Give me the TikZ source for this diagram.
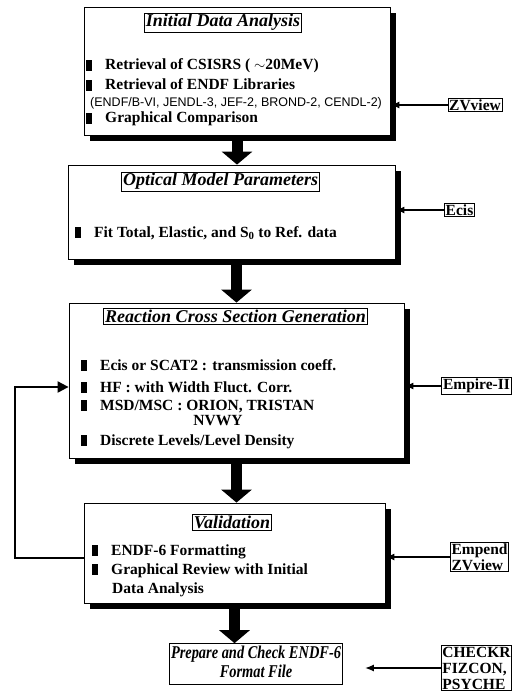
\documentclass[tikz,border=0pt]{standalone}
\usepackage{graphicx}
\usepackage{fontspec}
\setmainfont{Liberation Serif}
\setsansfont{Liberation Sans}
\usetikzlibrary{arrows.meta,shadows,positioning}
\tikzset{stage/.style = {draw, line width=0.8pt, fill=white, inner sep=0pt,
                         drop shadow={shadow xshift=6pt, shadow yshift=-6pt,
                                      fill=black, opacity=1}}}
\tikzset{heading/.style = {draw, line width=0.6pt, inner sep=1.5pt,
                           font=\fontsize{18}{20}\selectfont\bfseries\itshape}}
\tikzset{entry/.style = {anchor=base west, inner sep=0pt,
                         font=\fontsize{15.5}{17}\selectfont\bfseries}}
\tikzset{tool/.style = {draw, line width=0.8pt, inner sep=1.2pt, align=left,
                        font=\fontsize{15.5}{16}\selectfont\bfseries}}
\tikzset{bigarrow/.style = {line width=11pt, -{Triangle[width=30pt,length=13pt]}}}
\tikzset{feed/.style = {line width=2.5pt, -{Latex[length=9pt,width=7pt]}}}
\tikzset{backline/.style = {line width=2pt, -{Triangle[length=11pt,width=11pt]}}}
\newcommand{\blt}{\rule[-1pt]{6pt}{11pt}\hspace{13pt}}

\begin{document}
\begin{tikzpicture}[x=1pt, y=-1pt]
    \useasboundingbox (0, 0) rectangle (532, 698);

    % stages
    \node [stage, minimum width=306pt, minimum height=128pt] (ida) at (237, 71) {};
    \node [stage, minimum width=327pt, minimum height=94pt] (omp) at (231.5, 212) {};
    \node [stage, minimum width=335pt, minimum height=155pt] (rcs) at (236.5, 380.5) {};
    \node [stage, minimum width=301pt, minimum height=100pt] (val) at (234.5, 553) {};
    \node [heading, font=\fontsize{18}{19}\selectfont\bfseries\itshape] (fmt) at (256, 664)
      {\scalebox{0.8}[1]{\begin{tabular}{@{}c@{}}Prepare and Check ENDF-6\\Format File\end{tabular}}};

    % Initial Data Analysis
    \node [heading] (idaT) at (223, 22.5) {Initial Data Analysis};
    \node [entry] (ida1) at (86, 70) {\blt Retrieval of CSISRS ( $\sim$20MeV)};
    \node [entry] (ida2) at (86, 90) {\blt Retrieval of ENDF Libraries};
    \node [entry, font=\sffamily\fontsize{12.5}{14}\selectfont] (ida3) at (90, 106.5)
      {(ENDF/B-VI, JENDL-3, JEF-2, BROND-2, CENDL-2)};
    \node [entry] (ida4) at (86, 123) {\blt Graphical Comparison};

    % Optical Model Parameters
    \node [heading] (ompT) at (220.5, 181.5) {Optical Model Parameters};
    \node [entry] (omp1) at (75, 237) {\blt Fit Total, Elastic, and S\textsubscript{0} to Ref. data};

    % Reaction Cross Section Generation
    \node [heading] (rcsT) at (235.5, 316.5) {Reaction Cross Section Generation};
    \node [entry] (rcs1) at (81, 370) {\blt Ecis or SCAT2 : transmission coeff.};
    \node [entry] (rcs2) at (81, 392) {\blt HF : with Width Fluct. Corr.};
    \node [entry] (rcs3) at (81, 410) {\blt MSD/MSC : ORION, TRISTAN};
    \node [entry, anchor=base] (rcs4) at (218, 425) {NVWY};
    \node [entry] (rcs5) at (81, 445) {\blt Discrete Levels/Level Density};

    % Validation
    \node [heading] (valT) at (232, 522) {Validation};
    \node [entry] (val1) at (92, 555) {\blt ENDF-6 Formatting};
    \node [entry] (val2) at (92, 574) {\blt Graphical Review with Initial};
    \node [entry] (val3) at (112, 593) {Data Analysis};

    % codes
    \node [tool] (zv) at (475, 105) {ZVview};
    \node [tool] (ecis) at (459.5, 210) {Ecis};
    \node [tool] (emp) at (476.5, 386) {Empire-II};
    \node [tool] (empzv) at (479.5, 557) {Empend\\ZVview};
    \node [tool] (chk) at (476.5, 668) {CHECKR\\FIZCON,\\PSYCHE};

    % main flow
    \draw [bigarrow] (ida.south) -- (ida.south |- omp.north);
    \draw [bigarrow] (rcs.north |- omp.south) -- (rcs.north);
    \draw [bigarrow] (rcs.south) -- (rcs.south |- val.north);
    \draw [bigarrow] (val.south) -- (val.south |- fmt.north);

    % codes into stages
    \draw [feed] (zv.west) -- (ida.east |- zv.west);
    \draw [feed] (ecis.west) -- (omp.east |- ecis.west);
    \draw [feed] (emp.west) -- (rcs.east |- emp.west);
    \draw [feed] (empzv.west) -- (val.east |- empzv.west);
    \draw [feed, shorten >=22pt] (chk.west) -- (fmt.east |- chk.west);

    % back to generation
    \draw [backline] ([yshift=-5pt]val.west) -- ++(-69, 0) |- ([yshift=-6.5pt]rcs.west);
\end{tikzpicture}
\end{document}
